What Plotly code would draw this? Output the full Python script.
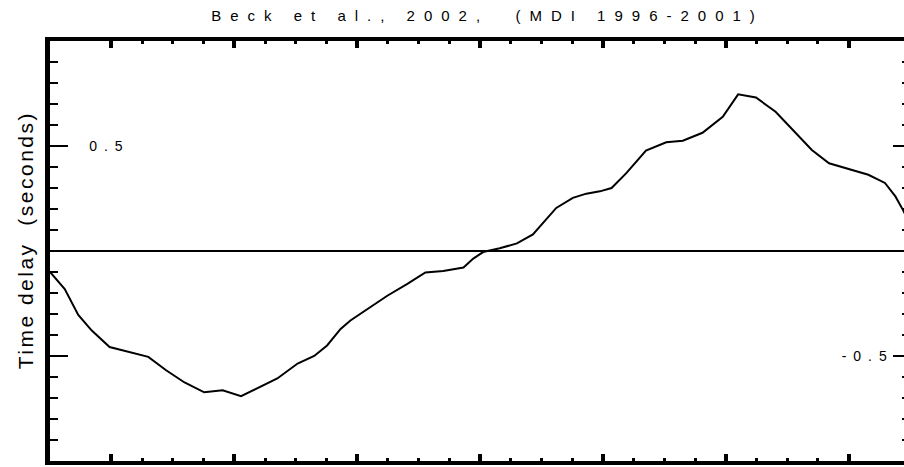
import plotly.graph_objects as go

# Latitude (degrees) and time delay (seconds)
latitude = [-70.0, -67.6, -65.4, -63.2, -60.3, -57.3, -54.0, -51.1, -48.1, -44.9,
            -41.9, -38.9, -36.2, -33.0, -29.7, -27.0, -24.9, -22.7, -21.1, -17.8,
            -15.1, -11.9, -8.9, -6.0, -2.7, -1.1, 0.5, 3.2, 6.0, 8.6,
            10.8, 12.4, 15.1, 17.3, 19.5, 21.4, 23.8, 27.0, 30.3, 33.0,
            36.2, 39.5, 42.0, 44.9, 48.1, 51.4, 54.0, 56.8, 60.0, 63.2,
            65.9, 67.6, 68.8, 70.0]
time_delay = [-0.100, -0.181, -0.304, -0.379, -0.457, -0.481, -0.504, -0.568, -0.626, -0.673,
              -0.663, -0.691, -0.651, -0.607, -0.536, -0.500, -0.450, -0.371, -0.331, -0.268,
              -0.213, -0.158, -0.102, -0.095, -0.079, -0.036, -0.005, 0.013, 0.036, 0.079,
              0.150, 0.205, 0.253, 0.273, 0.284, 0.300, 0.371, 0.478, 0.518, 0.525,
              0.563, 0.639, 0.746, 0.731, 0.663, 0.560, 0.481, 0.418, 0.390, 0.363,
              0.324, 0.260, 0.197, 0.130]

y_major = [-1.0, -0.5, 0.0, 0.5, 1.0]
left_labels = ["", "", "", "0.5", ""]
right_labels = ["", "-0.5", "", "", ""]

title_text = "Beck et al., 2002,  (MDI 1996-2001)"
ytitle_text = "Time delay  (seconds)"

FONT = "Liberation Sans, Arial, Helvetica, sans-serif"

fig = go.Figure()
fig.add_trace(go.Scatter(x=latitude, y=time_delay, mode="lines",
                         line=dict(color="black", width=2), showlegend=False,
                         hoverinfo="skip"))
# invisible trace to anchor the right-hand axis
fig.add_trace(go.Scatter(x=latitude, y=time_delay, mode="lines", yaxis="y2",
                         line=dict(color="rgba(0,0,0,0)", width=0), showlegend=False,
                         hoverinfo="skip"))

fig.update_layout(
    width=904, height=467,
    margin=dict(l=50, r=0, t=41, b=6),
    paper_bgcolor="white", plot_bgcolor="white",
    font=dict(family=FONT, color="black"),
    title=dict(text=title_text, x=0.5393, xref="container", xanchor="center",
               y=1 - 10.5 / 467, yref="container", yanchor="top",
               font=dict(size=15, family=FONT, color="black")),
    xaxis=dict(range=[-70, 69.0], showgrid=False, zeroline=False,
               showline=True, linecolor="black", linewidth=4, mirror="ticks",
               ticks="inside", tickmode="linear", tick0=0, dtick=20,
               ticklen=7, tickwidth=4, tickcolor="black",
               minor=dict(ticks="inside", dtick=5, tick0=0, ticklen=3, tickwidth=3,
                          tickcolor="black", showgrid=False),
               showticklabels=False, automargin=False),
    yaxis=dict(range=[-1, 1], showgrid=False,
               zeroline=True, zerolinecolor="black", zerolinewidth=1.5,
               showline=True, linecolor="black", linewidth=5, mirror=False,
               ticks="inside", tickmode="array", tickvals=y_major, ticktext=left_labels,
               ticklen=18, tickwidth=2, tickcolor="black",
               minor=dict(ticks="inside", tickmode="linear", tick0=0, dtick=0.1,
                          ticklen=8, tickwidth=2, tickcolor="black", showgrid=False),
               ticklabelposition="inside", ticklabelstandoff=21,
               tickfont=dict(size=14, family=FONT, color="black"),
               automargin=False),
    yaxis2=dict(range=[-1, 1], overlaying="y", side="right", showgrid=False,
                zeroline=False, showline=False,
                ticks="inside", tickmode="array", tickvals=y_major, ticktext=right_labels,
                ticklen=11, tickwidth=2, tickcolor="black",
                minor=dict(ticks="inside", tickmode="linear", tick0=0, dtick=0.1,
                           ticklen=2, tickwidth=2, tickcolor="black", showgrid=False),
                ticklabelposition="inside", ticklabelstandoff=-1,
                tickfont=dict(size=14, family=FONT, color="black"),
                automargin=False),
    annotations=[dict(text=ytitle_text, textangle=-90, showarrow=False,
                      xref="paper", yref="paper", x=-0.0293, y=0.526,
                      xanchor="center", yanchor="middle",
                      font=dict(size=21, family=FONT, color="black"))],
)

css = (".gtitle{letter-spacing:9px}"
       ".annotation-text{letter-spacing:2.5px}"
       ".ytick text,.y2tick text{letter-spacing:7px}"
       "body{margin:0;overflow:hidden}")
post = ("var s=document.createElement('style');s.textContent='" + css +
        "';document.head.appendChild(s);")

fig.write_html("out.html", post_script=post, config={"displayModeBar": False})
